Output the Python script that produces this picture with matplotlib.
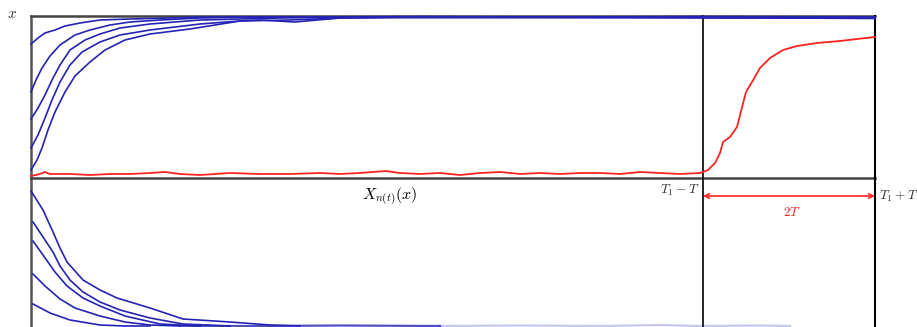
import numpy as np
import matplotlib.pyplot as plt

plt.rcParams["mathtext.fontset"] = "cm"

# curves, in pixel units (x right, y down)
top_x = [
    [31, 38, 45, 55, 65, 80, 100, 130, 170, 200, 300, 420, 560, 700, 875],
    [31, 36, 42, 50, 60, 75, 90, 110, 130, 160, 200, 250, 400, 600, 875],
    [31, 38, 45, 52, 60, 70, 85, 100, 120, 150, 200, 280, 350, 520, 875],
    [31, 38, 45, 52, 60, 70, 82, 100, 120, 150, 200, 240, 290, 340, 400, 650, 875],
    [31, 37, 42, 48, 55, 65, 75, 90, 105, 125, 150, 190, 240, 260, 295, 340, 400, 600, 875],
]
top_y = [
    [44, 38, 33, 30, 26, 23, 20, 19, 18, 17, 17, 16.5, 17, 16.5, 17],
    [92, 80, 68, 56, 45, 35, 30, 25, 22, 20, 18, 17, 17.5, 17, 17.5],
    [119, 108, 95, 80, 65, 50, 40, 34, 28, 24, 20, 18, 17, 17.5, 18],
    [148, 135, 118, 100, 82, 65, 52, 42, 35, 30, 24, 21, 20, 18, 17.5, 17.5, 18],
    [170, 160, 148, 130, 112, 92, 76, 62, 50, 40, 34, 29, 21, 20, 22, 18, 17, 17, 18.5],
]

bot_x = [
    [31, 43, 53, 60, 67, 83, 100, 117, 150, 183, 230, 270, 300],
    [33, 43, 53, 60, 70, 83, 100, 120, 150, 183, 230],
    [33, 43, 55, 67, 83, 100, 125, 160, 200],
    [33, 45, 60, 75, 100, 125, 150, 180],
    [33, 50, 70, 100, 125, 150],
]
bot_y = [
    [191, 210, 232, 248, 262, 280, 290, 298, 308, 319, 322, 325, 326],
    [222, 237, 252, 266, 280, 292, 302, 310, 318, 324, 326],
    [241, 255, 272, 286, 298, 306, 316, 324, 326],
    [274, 286, 299, 308, 316, 322, 325, 326],
    [304, 313, 320, 325, 326, 326],
]

# trace along the bottom edge: solid part, then a faint tail
floor_x = [180, 260, 340, 440]
floor_y = [326, 326, 325.5, 326]
tail_x = [440, 520, 600, 660, 700, 760, 790]
tail_y = [326, 325.5, 326, 325, 326, 325.5, 326]

red_x = [31, 40, 45, 50, 70, 90, 110, 130, 150, 165, 180, 200, 230, 260, 290,
         320, 340, 360, 386, 400, 420, 440, 460, 480, 500, 520, 540, 560, 580,
         600, 620, 640, 660, 680, 700, 703, 708, 715, 720, 723, 730, 737, 740,
         746, 752, 760, 770, 783, 797, 817, 840, 857, 875]
red_y = [176, 174, 172, 174, 174, 175, 174, 174, 173, 172, 174, 175, 173, 174,
         174, 173, 174, 173, 171, 173, 174, 173, 175, 173, 172, 174, 173, 174,
         173, 173, 174, 172, 173, 174, 173, 172, 170, 163, 153, 142, 137, 127,
         115, 92, 82, 68, 58, 50, 46, 43, 41, 39, 37]

blue = "#2424b4"
red = "#ff2222"

fig = plt.figure(figsize=(9.17, 3.27), dpi=100)
ax = fig.add_axes([0, 0, 1, 1])
ax.set_xlim(0, 917)
ax.set_ylim(327, 0)
ax.axis("off")

# frame lines
ax.plot([31, 31], [16, 327], color="#555555", lw=1.8)
ax.plot([31, 875], [16, 16], color="#444444", lw=1.8)
ax.plot([31, 875], [178, 178], color="#444444", lw=1.8)
ax.plot([703, 703], [16, 327], color="black", lw=1.2)
ax.plot([875, 875], [16, 327], color="black", lw=1.5)

for xs, ys in zip(top_x, top_y):
    ax.plot(xs, ys, color=blue, lw=1.2)
for xs, ys in zip(bot_x, bot_y):
    ax.plot(xs, ys, color=blue, lw=1.2)
ax.plot(floor_x, floor_y, color=blue, lw=1.6, alpha=0.8)
ax.plot(tail_x, tail_y, color=blue, lw=1.6, alpha=0.25)

ax.plot(red_x, red_y, color=red, lw=1.3)

ax.annotate("", xy=(703, 196), xytext=(875, 196),
            arrowprops=dict(arrowstyle="<->", color=red, lw=1.2,
                            shrinkA=0, shrinkB=0, mutation_scale=8))

ax.text(12, 14, "$x$", fontsize=11, ha="center", va="center", color="#333333")
ax.text(390, 197, "$X_{n(t)}(x)$", fontsize=11.5, ha="center", va="center")
ax.text(699, 190, "$T_1 - T$", fontsize=9.5, ha="right", va="center", color="#333333")
ax.text(879, 196, "$T_1 + T$", fontsize=9.5, ha="left", va="center", color="#333333")
ax.text(792, 212, "$2T$", fontsize=9.5, ha="center", va="center", color=red)

fig.savefig("out.png", dpi=100)
